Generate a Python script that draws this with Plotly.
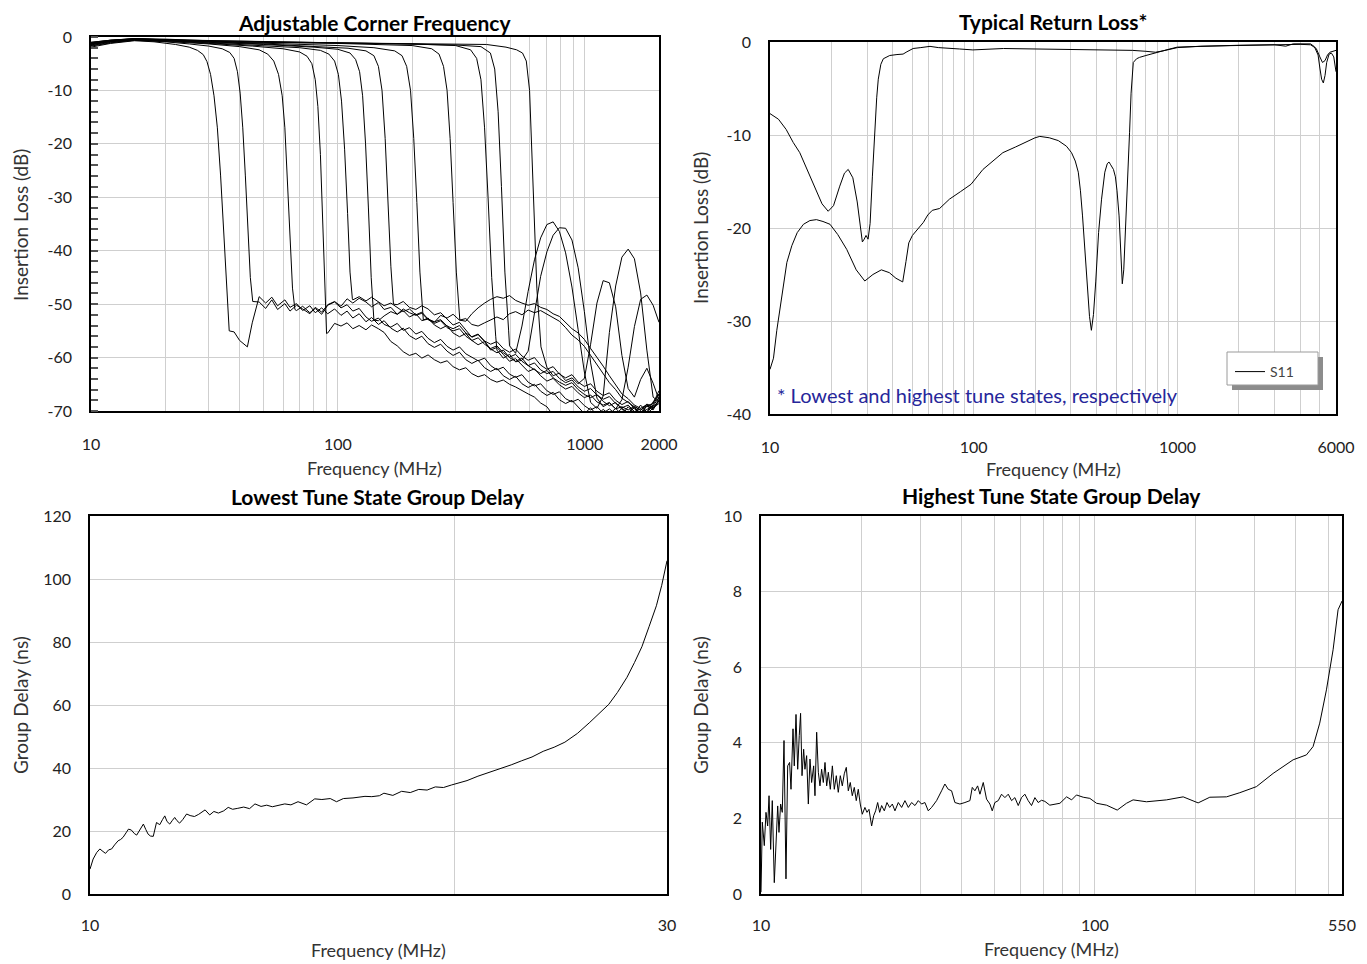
import plotly.graph_objects as go

# reference frame size; the page body adds an 8 px margin, so the figure is drawn
# 8 px smaller and every reference pixel position is shifted by that offset
W, H = 1367, 964
OFF = 8
FIG_W, FIG_H = W - OFF, H - OFF
FONT = "Lato"

# ---------------- Adjustable corner frequency (insertion loss, 12 tune states)
# shared frequency grid (MHz) for the stop-band floor of every state
IL_GRID = [36, 38, 40, 43, 45, 48, 51, 54, 57, 61,
           64, 68, 72, 77, 81, 86, 91, 97, 103, 109,
           115, 122, 130, 137, 146, 154, 164, 174, 184, 195,
           207, 219, 232, 246, 261, 277, 293, 311, 330, 349,
           370, 393, 416, 441, 468, 496, 525, 557, 590, 626,
           663, 703, 745, 790, 837, 888, 941, 997, 1057, 1121,
           1188, 1259, 1335, 1415, 1500, 1590, 1685, 1786, 1893, 2000]
N = None

IL_34_F = [10, 12, 15, 18, 22, 25, 27, 28.5, 29.5, 30.5, 31.5, 32.5, 33.5, 34.5, 35.5, 36.3]
IL_34_DB = [-1.9, -1.2, -0.7, -0.9, -1.4, -1.9, -2.5, -3.3, -4.6, -7, -11, -17, -26, -37, -48, -55]
IL_34_FLOOR = [N, -55.2, -56.8, -58.0, -53.5, -48.6, -49.8, -48.7, -50.3, -49.2,
               -50.6, -49.9, -51.2, -50.3, -51.6, -50.7, -51.8, -50.9, -52.1, -51.3,
               -52.6, -51.8, -53.3, -52.5, -53.8, -53.1, -54.5, -55.2, -54.5, -55.9,
               -56.6, -56.0, -57.4, -58.1, -57.5, -58.8, -59.6, -59.0, -60.4, -61.1,
               -60.5, -61.9, -62.6, -62.0, -63.4, -64.1, -63.5, -64.9, -65.6, -65.0,
               -66.3, -67.1, -66.5, -67.9, -68.6, -68.0, -69.3, -70.5, -69.4, -70.8,
               -69.7, -70.6, -69.5, -70.7, -69.2, -70.4, -68.9, -70.2, -68.3, -66.8]

IL_43_F = [10, 12, 15, 20, 25, 30, 34, 36.5, 38, 39.2, 40.2, 41.2, 42.2, 43.2, 44.2, 45.2]
IL_43_DB = [-1.6, -1.0, -0.6, -0.9, -1.3, -1.7, -2.2, -2.9, -4, -6.5, -10.5, -17, -26, -36, -45, -49.5]
IL_43_FLOOR = [N, N, N, N, N, -49.6, -50.8, -49.2, -51.0, -49.9,
               -51.3, -50.2, -50.9, -51.8, -50.6, -51.5, -50.1, -49.5, -50.4, -49.0,
               -49.8, -48.9, -49.6, -50.5, -49.7, -51.0, -50.6, -51.9, -51.2, -52.4,
               -51.8, -53.1, -52.6, -53.9, -54.6, -54.0, -55.4, -56.1, -55.5, -56.8,
               -57.6, -57.0, -58.4, -59.1, -58.6, -60.0, -60.7, -60.1, -61.5, -62.3,
               -63.0, -62.4, -63.8, -64.6, -65.2, -64.7, -66.0, -66.9, -67.5, -66.9,
               -68.2, -69.0, -68.4, -69.7, -70.3, -69.4, -70.5, -69.1, -69.8, -67.8]

IL_63_F = [10, 12, 15, 20, 30, 40, 48, 52, 55, 57.5, 59.5, 61, 62.5, 64, 65.5, 67]
IL_63_DB = [-1.4, -0.9, -0.5, -0.8, -1.3, -1.8, -2.4, -3.2, -4.5, -7, -11, -17, -27, -38, -47, -51]
IL_63_FLOOR = [N, N, N, N, N, N, N, N, N, N,
               N, -51.2, -50.4, -51.6, -50.8, -51.9, -50.2, -49.6, -50.7, -50.1,
               -51.3, -50.8, -52.4, -53.2, -52.6, -53.8, -54.3, -53.6, -54.9, -54.4,
               -55.6, -55.1, -56.4, -57.2, -56.6, -57.9, -58.6, -58.0, -59.3, -60.0,
               -60.6, -60.1, -61.5, -62.3, -61.8, -63.1, -63.7, -63.2, -64.6, -65.3,
               -64.9, -66.2, -66.9, -66.4, -67.7, -68.3, -67.8, -69.0, -69.8, -69.2,
               -70.4, -69.6, -70.6, -69.5, -70.3, -69.3, -70.5, -69.0, -68.6, -66.2]

IL_86_F = [10, 12, 15, 20, 30, 45, 60, 70, 75, 78.5, 81, 83, 85, 87, 88.5, 90]
IL_86_DB = [-1.2, -0.8, -0.5, -0.7, -1.2, -1.7, -2.2, -2.8, -3.6, -5, -8, -13, -22, -35, -47, -55.5]
IL_86_FLOOR = [N, N, N, N, N, N, N, N, N, N,
               N, N, N, N, N, N, -55.4, -53.6, -54.1, -53.5,
               -54.6, -54.0, -54.8, -53.9, -54.6, -55.3, -57.0, -57.8, -58.9, -59.6,
               -59.2, -60.1, -59.5, -60.4, -61.0, -60.6, -61.7, -62.3, -61.9, -63.0,
               -63.6, -63.2, -64.1, -64.6, -64.2, -65.0, -65.5, -66.2, -66.8, -67.4,
               -68.5, -69.2, -70.8, -71.5, -70.9, -71.6, -70.8, -71.3, -70.6, -71.2,
               -70.7, -71.4, -70.5, -71.1, -70.4, -70.9, -70.2, -70.6, -69.4, -68.0]

IL_110_F = [10, 12, 15, 20, 30, 50, 70, 85, 92, 97, 100.5, 103.5, 106.5, 109.5, 112, 114.5]
IL_110_DB = [-1.0, -0.6, -0.4, -0.6, -1.1, -1.6, -2.0, -2.5, -3.2, -4.5, -7, -12, -21, -33, -44, -49]
IL_110_FLOOR = [N, N, N, N, N, N, N, N, N, N,
                N, N, N, N, N, N, N, N, N, N,
                -49.2, -48.6, -49.4, -48.7, -49.6, -50.3, -49.8, -50.7, -51.4, -50.9,
                -52.0, -51.5, -52.8, -53.3, -52.9, -54.1, -54.6, -54.0, -55.4, -56.1,
                -55.6, -56.9, -57.5, -57.0, -58.3, -59.0, -58.4, -59.7, -60.5, -60.0,
                -61.4, -62.2, -61.7, -63.1, -63.8, -63.2, -64.6, -65.4, -64.9, -66.3,
                -67.1, -66.6, -68.0, -68.8, -68.2, -69.6, -70.3, -69.7, -69.1, -67.4]

IL_133_F = [10, 12, 15, 20, 30, 50, 80, 100, 112, 118, 122.5, 126, 129.5, 133, 136.5, 140]
IL_133_DB = [-1.3, -0.7, -0.4, -0.6, -1.0, -1.4, -1.9, -2.3, -3, -4.2, -6.5, -11, -20, -32, -45, -53]
IL_133_FLOOR = [N, N, N, N, N, N, N, N, N, N,
                N, N, N, N, N, N, N, N, N, N,
                N, N, N, N, -53.1, -52.2, -51.4, -51.9, -50.9, -51.6,
                -52.1, -51.7, -52.9, -53.6, -53.1, -54.4, -55.0, -54.6, -56.0, -56.8,
                -56.3, -57.5, -58.3, -57.8, -59.1, -59.9, -59.4, -60.7, -61.5, -61.0,
                -62.3, -63.0, -62.6, -63.9, -64.7, -64.2, -65.5, -66.3, -65.8, -67.0,
                -67.8, -67.3, -68.6, -69.4, -68.9, -70.1, -69.6, -70.4, -68.8, -66.9]

IL_160_F = [10, 12, 15, 20, 30, 50, 80, 110, 130, 140, 146, 151, 155.5, 160, 164, 168]
IL_160_DB = [-1.1, -0.6, -0.3, -0.5, -0.9, -1.3, -1.7, -2.1, -2.6, -3.5, -5.5, -10, -19, -31, -43, -50]
IL_160_FLOOR = [N, N, N, N, N, N, N, N, N, N,
                N, N, N, N, N, N, N, N, N, N,
                N, N, N, N, N, N, N, -50.1, -49.5, -50.6,
                -51.0, -50.3, -50.9, -52.0, -51.6, -52.8, -53.9, -53.4, -54.8, -56.2,
                -55.7, -57.0, -58.6, -58.1, -59.4, -60.7, -60.2, -61.5, -62.6, -62.1,
                -63.4, -64.4, -63.9, -65.1, -65.9, -65.4, -66.6, -67.5, -67.0, -68.3,
                -68.9, -68.4, -69.6, -69.2, -69.8, -69.1, -69.9, -68.7, -69.3, -68.2]

IL_209_F = [10, 12, 15, 20, 30, 50, 100, 140, 170, 182, 190, 197, 203, 209, 215, 222]
IL_209_DB = [-1.5, -0.8, -0.4, -0.6, -0.9, -1.2, -1.6, -2.0, -2.6, -3.5, -5.5, -10, -19, -31, -44, -53]
IL_209_FLOOR = [N, N, N, N, N, N, N, N, N, N,
                N, N, N, N, N, N, N, N, N, N,
                N, N, N, N, N, N, N, N, N, N,
                N, N, -52.8, -53.4, -52.1, -52.6, -51.9, -53.0, -52.7, -53.8,
                -54.1, -53.5, -53.0, -52.4, -52.9, -51.8, -51.4, -52.0, -51.1, -51.6,
                -51.2, -51.9, -52.6, -53.2, -54.4, -55.8, -56.7, -57.9, -59.6, -61.3,
                -62.8, -64.7, -66.0, -67.6, -68.4, -69.2, -69.8, -69.0, -69.6, -68.1]

IL_293_F = [10, 12, 15, 20, 30, 50, 100, 200, 240, 257, 268, 277, 285, 293, 302, 312]
IL_293_DB = [-1.2, -0.7, -0.3, -0.5, -0.8, -1.0, -1.2, -1.6, -2.2, -3.2, -5.5, -10, -19, -31, -44, -53]
IL_293_FLOOR = [N, N, N, N, N, N, N, N, N, N,
                N, N, N, N, N, N, N, N, N, N,
                N, N, N, N, N, N, N, N, N, N,
                N, N, N, N, N, N, N, N, -53.2, -51.8,
                -50.7, -49.8, -49.1, -48.6, -48.9, -48.4, -49.3, -49.8, -50.2, -49.9,
                -50.6, -51.0, -51.8, -52.3, -53.5, -54.6, -55.4, -56.6, -58.3, -59.9,
                -61.6, -63.4, -65.1, -66.8, -67.7, -68.9, -69.5, -68.8, -69.4, -68.6]

IL_406_F = [10, 12, 15, 20, 30, 50, 100, 200, 300, 345, 365, 380, 393, 406, 420, 436]
IL_406_DB = [-1.0, -0.6, -0.3, -0.4, -0.7, -0.9, -1.1, -1.3, -1.6, -2.4, -4, -8, -17, -30, -45, -56]
IL_406_FLOOR = [N, N, N, N, N, N, N, N, N, N,
                N, N, N, N, N, N, N, N, N, N,
                N, N, N, N, N, N, N, N, N, N,
                N, N, N, N, N, N, N, N, N, N,
                N, N, N, -58.6, -60.1, -59.4, -60.8, -60.5, -58.8, -51.5,
                -44.8, -40.2, -37.1, -35.7, -35.8, -38.0, -43.2, -51.4, -61.0, -67.6,
                -69.2, -68.5, -69.6, -67.9, -61.8, -54.2, -49.1, -48.3, -50.2, -53.4]

IL_463_F = [10, 12, 15, 20, 30, 50, 100, 200, 300, 380, 415, 432, 446, 460, 475, 492]
IL_463_DB = [-1.3, -0.8, -0.4, -0.5, -0.7, -0.9, -1.1, -1.3, -1.5, -1.8, -3, -6, -14, -28, -44, -55]
IL_463_FLOOR = [N, N, N, N, N, N, N, N, N, N,
                N, N, N, N, N, N, N, N, N, N,
                N, N, N, N, N, N, N, N, N, N,
                N, N, N, N, N, N, N, N, N, N,
                N, N, N, N, N, -57.8, -59.2, -54.1, -47.6, -41.7,
                -37.6, -35.1, -34.6, -36.4, -40.4, -46.8, -54.8, -62.7, -68.4, -69.5,
                -67.2, -55.3, -46.6, -41.2, -39.7, -41.5, -47.9, -58.6, -67.4, -68.3]

IL_618_F = [10, 12, 15, 20, 30, 50, 100, 200, 300, 400, 480, 530, 560, 580, 598, 618, 640, 665]
IL_618_DB = [-1.7, -1.1, -0.6, -0.7, -0.9, -1.0, -1.1, -1.2, -1.3, -1.4, -1.9, -2.4, -3.0, -4.5, -10, -28, -47, -58]
IL_618_FLOOR = [N, N, N, N, N, N, N, N, N, N,
                N, N, N, N, N, N, N, N, N, N,
                N, N, N, N, N, N, N, N, N, N,
                N, N, N, N, N, N, N, N, N, N,
                N, N, N, N, N, N, N, N, N, N,
                N, -61.8, -63.4, -62.9, -64.3, -63.8, -64.9, -63.9, -57.5, -49.8,
                -45.6, -46.0, -50.5, -59.6, -65.8, -67.4, -64.1, -62.0, -64.8, -67.9]

IL_STATES = [
    (IL_34_F, IL_34_DB, IL_34_FLOOR), (IL_43_F, IL_43_DB, IL_43_FLOOR),
    (IL_63_F, IL_63_DB, IL_63_FLOOR), (IL_86_F, IL_86_DB, IL_86_FLOOR),
    (IL_110_F, IL_110_DB, IL_110_FLOOR), (IL_133_F, IL_133_DB, IL_133_FLOOR),
    (IL_160_F, IL_160_DB, IL_160_FLOOR), (IL_209_F, IL_209_DB, IL_209_FLOOR),
    (IL_293_F, IL_293_DB, IL_293_FLOOR), (IL_406_F, IL_406_DB, IL_406_FLOOR),
    (IL_463_F, IL_463_DB, IL_463_FLOOR), (IL_618_F, IL_618_DB, IL_618_FLOOR),
]

# ---------------- Typical return loss (lowest / highest tune state)
RL_LOW_F = [10, 11, 12, 13, 14, 15, 16, 17, 18, 19.3, 20.5, 22, 23.2, 24.2, 25.5, 26.8,
            27.8, 28.4, 29.0, 29.6, 30.3, 31.0, 31.8, 32.7, 33.4, 34.0, 35.0, 36.0, 38.7,
            42, 45, 47, 50.4, 55, 61, 67, 75, 85, 99, 115, 140, 200, 300, 450, 600, 700,
            780, 850, 1000, 1300, 2000, 3000, 3500, 4000, 4500, 4800, 5000, 5150, 5300,
            5450, 5600, 5750, 5900, 6000]
RL_LOW_DB = [-7.7, -8.3, -9.4, -10.8, -11.9, -13.4, -14.8, -16.2, -17.4, -18.2, -17.6,
             -15.5, -14.1, -13.7, -14.6, -17.2, -20.3, -21.5, -21.2, -20.8, -21.2, -19.5,
             -14.5, -9.4, -6.0, -4.0, -2.4, -1.8, -1.45, -1.35, -1.3, -1.05, -0.7, -0.6,
             -0.47, -0.6, -0.7, -0.75, -0.85, -0.75, -0.7, -0.75, -0.8, -0.8, -0.9, -1.0,
             -1.1, -0.95, -0.6, -0.45, -0.35, -0.3, -0.3, -0.25, -0.3, -0.7, -1.6, -2.2,
             -2.0, -1.4, -1.1, -1.0, -0.95, -0.9]

RL_HIGH_F = [10, 10.4, 10.8, 11.4, 12.1, 12.8, 13.6, 14.6, 15.7, 16.9, 18.2, 19.7, 21.5,
             23.8, 26.5, 29.2, 32, 35.2, 38.5, 41.5, 44.8, 46.5, 48, 50, 53, 56.6, 59.5,
             62.6, 68, 76, 86, 97, 111, 125, 139, 160, 182, 200, 211, 235, 260, 285, 302,
             315, 326, 334, 342, 351, 360, 370, 378, 387, 397, 410, 424, 440, 452, 461,
             470, 485, 496, 505, 517, 527, 536, 545, 553, 563, 572, 582, 592, 607, 630,
             652, 700, 778, 900, 998, 1300, 2000, 3000, 3400, 3700, 4200, 4500, 4700,
             4900, 5000, 5100, 5200, 5300, 5400, 5550, 5700, 5850, 6000]
RL_HIGH_DB = [-35.2, -34.0, -31.0, -27.3, -23.7, -21.9, -20.5, -19.6, -19.2, -19.1,
              -19.3, -19.6, -20.7, -22.3, -24.5, -25.7, -25.0, -24.5, -24.8, -25.4,
              -25.8, -23.6, -21.6, -20.8, -20.1, -19.4, -18.6, -18.1, -17.9, -16.9,
              -16.1, -15.3, -13.7, -12.8, -11.9, -11.3, -10.7, -10.3, -10.15, -10.3,
              -10.6, -11.2, -11.9, -12.8, -14.0, -16.0, -18.7, -22.0, -25.8, -29.5,
              -31.0, -29.3, -25.8, -20.5, -16.9, -14.0, -13.1, -12.9, -13.2, -13.7,
              -14.5, -16.0, -18.7, -23.0, -26.0, -24.5, -21.5, -17.5, -13.0, -9.7,
              -5.5, -2.2, -1.8, -1.65, -1.45, -1.15, -0.8, -0.55, -0.45, -0.35, -0.3,
              -0.45, -0.2, -0.15, -0.2, -0.5, -1.4, -2.8, -4.0, -4.4, -3.6, -2.2, -1.3,
              -1.2, -1.6, -3.2]

# ---------------- Group delay, lowest tune state (10-30 MHz)
GD_LO_F = [10.00, 10.06, 10.13, 10.19, 10.25, 10.30, 10.36, 10.42, 10.48, 10.55, 10.60,
           10.65, 10.71, 10.76, 10.82, 10.88, 10.93, 11.00, 11.07, 11.12, 11.17, 11.22,
           11.28, 11.35, 11.42, 11.48, 11.53, 11.58, 11.64, 11.70, 11.75, 11.80, 11.86,
           11.93, 12.02, 12.10, 12.20, 12.30, 12.45, 12.56, 12.66, 12.77, 12.90, 13.01,
           13.12, 13.25, 13.40, 13.55, 13.69, 13.85, 14.00, 14.15, 14.30, 14.49, 14.66,
           14.86, 15.10, 15.34, 15.55, 15.80, 15.99, 16.20, 16.50, 16.88, 17.10, 17.35,
           17.50, 17.80, 18.10, 18.40, 18.70, 19.00, 19.30, 19.60, 19.90, 20.20, 20.50,
           20.93, 21.40, 21.80, 22.30, 22.75, 23.20, 23.70, 24.20, 24.70, 25.30, 25.90,
           26.40, 26.85, 27.30, 27.80, 28.20, 28.60, 29.00, 29.40, 29.70, 30.00]
GD_LO_NS = [7.9, 11.1, 13.2, 14.3, 13.5, 12.9, 14.0, 14.3, 15.6, 16.9, 17.3, 18.0, 19.4,
            20.6, 20.3, 19.2, 18.7, 20.4, 22.2, 20.5, 19.0, 18.4, 18.3, 22.7, 22.0, 23.6,
            24.8, 23.0, 22.2, 23.4, 24.3, 23.3, 22.5, 23.6, 25.4, 24.9, 24.6, 25.3, 26.7,
            25.1, 26.2, 25.7, 26.4, 27.5, 26.9, 27.2, 27.6, 27.1, 28.6, 27.8, 28.2, 27.7,
            28.1, 28.6, 28.3, 29.3, 28.3, 30.2, 30.0, 30.3, 29.3, 30.3, 30.5, 31.0, 30.9,
            31.2, 32.0, 31.3, 32.6, 32.2, 33.2, 33.0, 34.0, 33.8, 34.6, 35.3, 36.0, 37.4,
            38.6, 39.6, 41.0, 42.3, 43.5, 45.3, 46.6, 48.2, 51.0, 54.5, 57.7, 60.2, 64.0,
            68.8, 73.5, 78.5, 85.0, 91.5, 98.0, 105.8]

# ---------------- Group delay, highest tune state (10-550 MHz)
GD_HI_F = [10.00, 10.09, 10.23, 10.35, 10.47, 10.57, 10.69, 10.81, 10.96, 11.09, 11.22,
           11.32, 11.45, 11.58, 11.72, 11.88, 12.02, 12.18, 12.30, 12.47, 12.58, 12.73,
           12.88, 13.02, 13.14, 13.27, 13.42, 13.54, 13.70, 13.86, 14.02, 14.18, 14.38,
           14.51, 14.68, 14.85, 15.02, 15.19, 15.37, 15.55, 15.73, 15.91, 16.13, 16.36,
           16.58, 16.81, 17.04, 17.28, 17.52, 17.76, 18.01, 18.26, 18.51, 18.77, 19.03,
           19.29, 19.56, 19.83, 20.11, 20.48, 20.77, 21.06, 21.45, 21.75, 22.05, 22.36,
           22.67, 22.98, 23.41, 23.84, 24.29, 24.74, 25.19, 25.78, 26.38, 26.99, 27.62,
           28.26, 28.92, 29.59, 30.27, 30.97, 31.70, 32.43, 33.57, 34.75, 35.55, 36.38,
           37.23, 38.09, 39.43, 40.82, 42.25, 42.94, 43.73, 44.55, 45.27, 46.32, 47.38,
           48.49, 49.28, 50.19, 51.36, 52.55, 53.78, 55.03, 56.31, 57.61, 58.96, 60.31,
           61.72, 63.15, 64.62, 66.13, 67.66, 69.24, 70.85, 73.3, 78.6, 82.3, 85.2, 88.1,
           92.3, 96.6, 101.2, 108.4, 116.7, 124.4, 130.2, 142.8, 163.9, 183.9, 203.9,
           221.0, 248.0, 271.8, 304.8, 342.0, 392.6, 430.3, 450.5, 471.7, 494.0, 517.2,
           535.3, 550.0]
GD_HI_NS = [0.05, 1.90, 1.28, 2.16, 1.80, 2.60, 1.18, 2.47, 0.30, 1.45, 2.33, 1.63,
            2.38, 2.16, 4.06, 0.40, 3.39, 3.48, 2.77, 4.37, 3.39, 4.75, 3.30, 4.19, 4.78,
            3.13, 3.83, 3.30, 3.66, 2.38, 3.57, 2.95, 3.39, 2.60, 4.28, 3.22, 2.86, 3.30,
            2.95, 3.48, 2.86, 3.22, 2.77, 3.39, 2.77, 3.13, 2.69, 3.13, 2.86, 3.18, 3.35,
            2.73, 2.95, 2.60, 2.82, 2.47, 2.77, 2.38, 2.11, 2.29, 2.16, 2.24, 1.80, 2.07,
            2.20, 2.42, 2.16, 2.34, 2.20, 2.42, 2.29, 2.38, 2.20, 2.42, 2.29, 2.47, 2.29,
            2.42, 2.34, 2.47, 2.38, 2.42, 2.20, 2.29, 2.47, 2.73, 2.91, 2.77, 2.73, 2.42,
            2.38, 2.42, 2.47, 2.82, 2.73, 2.86, 2.64, 2.95, 2.51, 2.38, 2.20, 2.42, 2.47,
            2.64, 2.55, 2.64, 2.47, 2.55, 2.34, 2.55, 2.64, 2.47, 2.34, 2.55, 2.42, 2.48,
            2.45, 2.35, 2.40, 2.57, 2.49, 2.62, 2.56, 2.53, 2.40, 2.35, 2.22, 2.40, 2.49,
            2.44, 2.49, 2.57, 2.41, 2.56, 2.57, 2.68, 2.84, 3.19, 3.55, 3.68, 3.90, 4.52,
            5.40, 6.46, 7.52, 7.75]

LOG_MINOR = ["", "", "", "", "", "", "", ""]
IL_TICKS = [0, -10, -20, -30, -40, -50, -60, -70]
RL_TICKS = [0, -10, -20, -30, -40]


def dom_x(a, b):
    return [(a - OFF) / FIG_W, (b - OFF) / FIG_W]


def dom_y(top, bottom):
    return [1 - (bottom - OFF) / FIG_H, 1 - (top - OFF) / FIG_H]


def px(x, y):
    return (x - OFF) / FIG_W, 1 - (y - OFF) / FIG_H


tick_font = dict(family=FONT, size=16, color="#222222")
axis_base = dict(showline=True, linecolor="black", linewidth=1.6, mirror=True,
                 gridcolor="#cfcfcf", gridwidth=1.3, zeroline=False, ticks="",
                 tickfont=tick_font)

fig = go.Figure()
line = dict(color="black", width=1)

for f_edge, db_edge, floor in IL_STATES:
    xs = list(f_edge) + [f for f, v in zip(IL_GRID, floor) if v is not None]
    ys = list(db_edge) + [v for v in floor if v is not None]
    fig.add_trace(go.Scatter(x=xs, y=ys, mode="lines", line=line, showlegend=False,
                             xaxis="x", yaxis="y"))

fig.add_trace(go.Scatter(x=RL_LOW_F, y=RL_LOW_DB, mode="lines", line=line, name="S11",
                         showlegend=True, xaxis="x2", yaxis="y2"))
fig.add_trace(go.Scatter(x=RL_HIGH_F, y=RL_HIGH_DB, mode="lines", line=line,
                         showlegend=False, xaxis="x2", yaxis="y2"))
fig.add_trace(go.Scatter(x=GD_LO_F, y=GD_LO_NS, mode="lines", line=line,
                         showlegend=False, xaxis="x3", yaxis="y3"))
fig.add_trace(go.Scatter(x=GD_HI_F, y=GD_HI_NS, mode="lines", line=line,
                         showlegend=False, xaxis="x4", yaxis="y4"))

tv1 = [10, 20, 30, 40, 50, 60, 70, 80, 90, 100, 200, 300, 400, 500, 600, 700, 800, 900, 1000, 2000]
tt1 = ["10"] + LOG_MINOR + ["100"] + LOG_MINOR + ["1000", "2000"]
tv2 = [10, 20, 30, 40, 50, 60, 70, 80, 90, 100, 200, 300, 400, 500, 600, 700, 800, 900,
       1000, 2000, 3000, 4000, 5000, 6000]
tt2 = ["10"] + LOG_MINOR + ["100"] + LOG_MINOR + ["1000", "", "", "", "", "6000"]
tv4 = [10, 20, 30, 40, 50, 60, 70, 80, 90, 100, 200, 300, 400, 500, 550]
tt4 = ["10"] + LOG_MINOR + ["100", "", "", "", "", "550"]

fig.update_layout(
    width=FIG_W, height=FIG_H, margin=dict(l=0, r=0, t=0, b=0, pad=0, autoexpand=False),
    paper_bgcolor="white", plot_bgcolor="white",
    font=dict(family=FONT, color="#222222"),
    xaxis=dict(axis_base, type="log", range=[1, 3.30103], domain=dom_x(91, 659),
               anchor="y", tickmode="array", tickvals=tv1, ticktext=tt1, ticklabelstandoff=18),
    yaxis=dict(axis_base, range=[-70, 0], domain=dom_y(37, 411), anchor="x",
               tickmode="array", tickvals=IL_TICKS, ticktext=[str(v) for v in IL_TICKS],
               ticklabelstandoff=14,
               minor=dict(ticks="inside", dtick=2, tick0=0, ticklen=7, tickwidth=2,
                          tickcolor="#555555", showgrid=False)),
    xaxis2=dict(axis_base, type="log", range=[1, 3.778151], domain=dom_x(770, 1336),
                anchor="y2", tickmode="array", tickvals=tv2, ticktext=tt2, ticklabelstandoff=18),
    yaxis2=dict(axis_base, range=[-40, 0], domain=dom_y(42, 414), anchor="x2",
                tickmode="array", tickvals=RL_TICKS, ticktext=[str(v) for v in RL_TICKS],
                ticklabelstandoff=14),
    xaxis3=dict(axis_base, type="log", range=[1, 1.477121], domain=dom_x(90, 667),
                anchor="y3", tickmode="array", tickvals=[10, 20, 30],
                ticktext=["10", "", "30"], ticklabelstandoff=16),
    yaxis3=dict(axis_base, range=[0, 120], domain=dom_y(516, 894), anchor="x3", dtick=20,
                ticklabelstandoff=14),
    xaxis4=dict(axis_base, type="log", range=[1, 2.740363], domain=dom_x(761, 1342),
                anchor="y4", tickmode="array", tickvals=tv4, ticktext=tt4, ticklabelstandoff=16),
    yaxis4=dict(axis_base, range=[0, 10], domain=dom_y(516, 894), anchor="x4", dtick=2,
                ticklabelstandoff=14),
    legend=dict(x=(1230 - OFF) / FIG_W, y=1 - (356 - OFF) / FIG_H, xanchor="left",
                yanchor="top", bgcolor="rgba(0,0,0,0)", borderwidth=0, itemwidth=30,
                font=dict(family=FONT, size=14, color="#444444")),
)

# legend frame with drop shadow
sx0, sy0 = px(1232, 357)
sx1, sy1 = px(1323, 390)
bx0, by0 = px(1227, 352)
bx1, by1 = px(1318, 385)
fig.add_shape(type="rect", xref="paper", yref="paper", x0=sx0, y0=sy0, x1=sx1, y1=sy1,
              fillcolor="#8c8c8c", line=dict(width=0), layer="above")
fig.add_shape(type="rect", xref="paper", yref="paper", x0=bx0, y0=by0, x1=bx1, y1=by1,
              fillcolor="white", line=dict(color="#9a9a9a", width=1), layer="above")

# (text, centre x, y, vertical anchor) - the first title sits right at the page top
titles = [
    ("Adjustable Corner Frequency", 375, 8, "top"),
    ("Typical Return Loss*", 1053, 22, "middle"),
    ("Lowest Tune State Group Delay", 378, 496, "middle"),
    ("Highest Tune State Group Delay", 1051, 495, "middle"),
]
for text, x, y, anchor in titles:
    ax, ay = px(x, y)
    fig.add_annotation(text="<b>" + text + "</b>", x=ax, y=ay, xref="paper", yref="paper",
                       xanchor="center", yanchor=anchor, showarrow=False,
                       font=dict(family=FONT, size=21, color="black"))

xtitles = [(375, 468), (1053, 469), (378, 950), (1051, 949)]
for x, y in xtitles:
    ax, ay = px(x, y)
    fig.add_annotation(text="Frequency (MHz)", x=ax, y=ay, xref="paper", yref="paper",
                       xanchor="center", yanchor="middle", showarrow=False,
                       font=dict(family=FONT, size=18, color="#333333"))

ytitles = [("Insertion Loss (dB)", 20, 225), ("Insertion Loss (dB)", 700, 228),
           ("Group Delay (ns)", 20, 705), ("Group Delay (ns)", 700, 705)]
for text, x, y in ytitles:
    ax, ay = px(x, y)
    fig.add_annotation(text=text, x=ax, y=ay, xref="paper", yref="paper", textangle=-90,
                       xanchor="center", yanchor="middle", showarrow=False,
                       font=dict(family=FONT, size=19, color="#333333"))

nx, ny = px(775, 395)
fig.add_annotation(text="* Lowest and highest tune states, respectively", x=nx, y=ny,
                   xref="paper", yref="paper", xanchor="left", yanchor="middle",
                   showarrow=False, font=dict(family=FONT, size=20, color="#26269a"))

fig.write_html("out.html")
